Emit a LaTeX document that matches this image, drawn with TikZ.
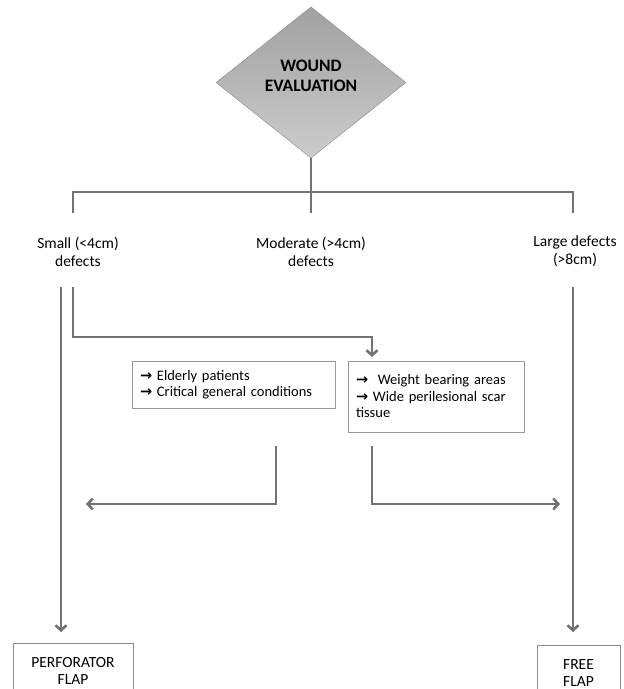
\documentclass[tikz,border=0pt]{standalone}
\usepackage{fontspec}
\setmainfont{Carlito}
\newfontfamily\arrowfont{DejaVu Sans}
\usepackage{tikz}
\usetikzlibrary{shapes.geometric, arrows, arrows.meta}
\tikzstyle{decision} = [diamond, minimum width=190pt, minimum height=141pt, text centered, align=center, draw=black!45, top color=black!37, bottom color=black!20, font=\bfseries\fontsize{17.5}{20}\selectfont]
\tikzstyle{sizetext} = [align=center, font=\fontsize{15.5}{18}\selectfont]
\tikzstyle{note} = [rectangle, draw=black!40, line width=0.8pt, align=left, inner xsep=8pt, font=\fontsize{14.5}{16.5}\selectfont]
\tikzstyle{flap} = [rectangle, draw=black!45, line width=0.8pt, text centered, align=center, anchor=north, inner ysep=0pt, font=\fontsize{15.5}{17}\selectfont]
\tikzstyle{branch} = [line width=2.6pt, draw=black!55]
\tikzstyle{arrow} = [line width=2.6pt, draw=black!55, ->, >={Straight Barb[length=5pt, width=11pt]}]
\newcommand{\pt}{{\arrowfont\bfseries →}}

\begin{document}
\begin{tikzpicture}[x=1pt, y=1pt]
	\clip (0,0) rectangle (624,-689);
	\node(eval) [decision, text depth=14pt] at (311,-82.5) {WOUND\\EVALUATION};
	\node(small) [sizetext] at (78,-252) {Small (<4cm)\\defects};
	\node(moderate) [sizetext] at (311,-252) {Moderate (>4cm)\\defects};
	\node(large) [sizetext] at (575,-251) {Large defects\\(>8cm)};
	\node(elderly) [note, text width=187pt, minimum height=47pt] at (233.5,-384.5) {\pt\ Elderly patients\\\pt\ Critical general conditions};
	\node(weight) [note, text width=160pt, minimum height=71pt] at (436,-396.5) {\pt\ \ Weight bearing areas\\\pt\ Wide perilesional scar\\tissue};
	\node(perforator) [flap, minimum width=120pt, minimum height=55pt] at (73,-643) {PERFORATOR\\FLAP};
	\node(free) [flap, minimum width=83pt, minimum height=55pt] at (578.5,-645) {FREE\\FLAP};

	\coordinate(split) at (311,-192);
	\coordinate(smalltop) at (73,-213);
	\coordinate(modtop) at (311,-213);
	\coordinate(largetop) at (573,-213);
	\coordinate(smallout) at (61,-287);
	\coordinate(smallmod) at (73,-287);
	\coordinate(turn) at (73,-337);
	\coordinate(weightin) at (372,-361);
	\coordinate(largeout) at (573,-287);
	\coordinate(elderlyout) at (276,-446);
	\coordinate(leftend) at (86,-504);
	\coordinate(weightout) at (372,-446);
	\coordinate(rightend) at (560,-504);

	\draw[branch] (eval.south) -- (modtop);
	\draw[branch] (smalltop) |- (split) -| (largetop);
	\draw[arrow, shorten >=11pt] (smallout) -- (smallout |- perforator.north);
	\draw[arrow, shorten >=4pt] (smallmod) -- (turn) -| (weightin);
	\draw[arrow, shorten >=13pt] (largeout) -- (largeout |- free.north);
	\draw[arrow] (elderlyout) |- (leftend);
	\draw[arrow] (weightout) |- (rightend);
\end{tikzpicture}
\end{document}
